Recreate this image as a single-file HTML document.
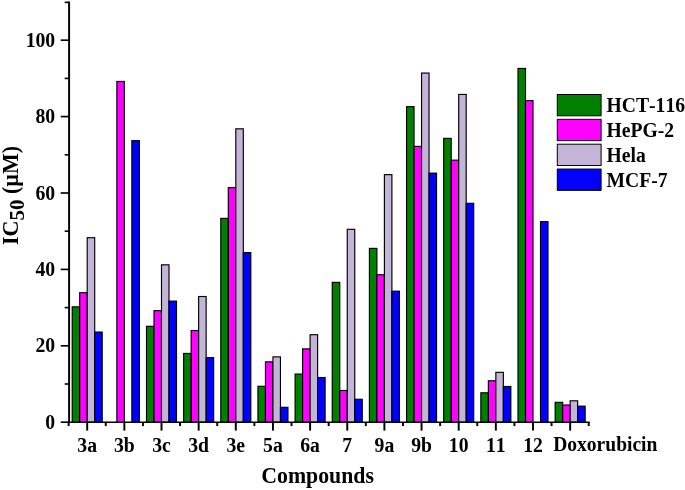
<!DOCTYPE html>
<html><head><meta charset="utf-8"><title>IC50 chart</title>
<style>
html,body{margin:0;padding:0;background:#fff;}
svg{display:block;}
text{font-kerning:none;font-family:"Liberation Serif",serif;font-weight:bold;fill:#000;}
</style></head><body>
<svg width="685" height="490" viewBox="0 0 685 490">
<rect width="685" height="490" fill="#fff"/>
<g stroke="#000" stroke-width="1.15">
<rect x="72.20" y="306.84" width="7.50" height="115.36" fill="#008000"/>
<rect x="79.70" y="292.70" width="7.50" height="129.50" fill="#ff00ff"/>
<rect x="87.20" y="237.69" width="7.50" height="184.51" fill="#c3b4d8"/>
<rect x="94.70" y="332.05" width="7.50" height="90.15" fill="#0000ff"/>
<rect x="116.85" y="81.46" width="7.50" height="340.74" fill="#ff00ff"/>
<rect x="131.85" y="140.67" width="7.50" height="281.53" fill="#0000ff"/>
<rect x="146.50" y="326.32" width="7.50" height="95.88" fill="#008000"/>
<rect x="154.00" y="310.66" width="7.50" height="111.54" fill="#ff00ff"/>
<rect x="161.50" y="264.82" width="7.50" height="157.38" fill="#c3b4d8"/>
<rect x="169.00" y="301.11" width="7.50" height="121.09" fill="#0000ff"/>
<rect x="183.65" y="353.44" width="7.50" height="68.76" fill="#008000"/>
<rect x="191.15" y="330.52" width="7.50" height="91.68" fill="#ff00ff"/>
<rect x="198.65" y="296.52" width="7.50" height="125.68" fill="#c3b4d8"/>
<rect x="206.15" y="357.64" width="7.50" height="64.56" fill="#0000ff"/>
<rect x="220.80" y="218.40" width="7.50" height="203.80" fill="#008000"/>
<rect x="228.30" y="187.65" width="7.50" height="234.55" fill="#ff00ff"/>
<rect x="235.80" y="128.82" width="7.50" height="293.38" fill="#c3b4d8"/>
<rect x="243.30" y="252.59" width="7.50" height="169.61" fill="#0000ff"/>
<rect x="257.95" y="386.29" width="7.50" height="35.91" fill="#008000"/>
<rect x="265.45" y="361.84" width="7.50" height="60.36" fill="#ff00ff"/>
<rect x="272.95" y="356.88" width="7.50" height="65.32" fill="#c3b4d8"/>
<rect x="280.45" y="407.30" width="7.50" height="14.90" fill="#0000ff"/>
<rect x="295.10" y="374.07" width="7.50" height="48.13" fill="#008000"/>
<rect x="302.60" y="348.86" width="7.50" height="73.34" fill="#ff00ff"/>
<rect x="310.10" y="334.72" width="7.50" height="87.48" fill="#c3b4d8"/>
<rect x="317.60" y="377.51" width="7.50" height="44.69" fill="#0000ff"/>
<rect x="332.25" y="282.39" width="7.50" height="139.81" fill="#008000"/>
<rect x="339.75" y="390.49" width="7.50" height="31.71" fill="#ff00ff"/>
<rect x="347.25" y="229.29" width="7.50" height="192.91" fill="#c3b4d8"/>
<rect x="354.75" y="399.28" width="7.50" height="22.92" fill="#0000ff"/>
<rect x="369.40" y="248.39" width="7.50" height="173.81" fill="#008000"/>
<rect x="376.90" y="274.75" width="7.50" height="147.45" fill="#ff00ff"/>
<rect x="384.40" y="174.66" width="7.50" height="247.54" fill="#c3b4d8"/>
<rect x="391.90" y="291.17" width="7.50" height="131.03" fill="#0000ff"/>
<rect x="406.55" y="106.67" width="7.50" height="315.53" fill="#008000"/>
<rect x="414.05" y="146.40" width="7.50" height="275.80" fill="#ff00ff"/>
<rect x="421.55" y="73.05" width="7.50" height="349.15" fill="#c3b4d8"/>
<rect x="429.05" y="173.14" width="7.50" height="249.06" fill="#0000ff"/>
<rect x="443.70" y="138.37" width="7.50" height="283.83" fill="#008000"/>
<rect x="451.20" y="160.15" width="7.50" height="262.05" fill="#ff00ff"/>
<rect x="458.70" y="94.44" width="7.50" height="327.76" fill="#c3b4d8"/>
<rect x="466.20" y="203.31" width="7.50" height="218.89" fill="#0000ff"/>
<rect x="480.85" y="392.79" width="7.50" height="29.41" fill="#008000"/>
<rect x="488.35" y="380.75" width="7.50" height="41.45" fill="#ff00ff"/>
<rect x="495.85" y="372.35" width="7.50" height="49.85" fill="#c3b4d8"/>
<rect x="503.35" y="386.48" width="7.50" height="35.72" fill="#0000ff"/>
<rect x="518.00" y="68.47" width="7.50" height="353.73" fill="#008000"/>
<rect x="525.50" y="100.56" width="7.50" height="321.64" fill="#ff00ff"/>
<rect x="540.50" y="221.65" width="7.50" height="200.55" fill="#0000ff"/>
<rect x="555.15" y="402.34" width="7.50" height="19.86" fill="#008000"/>
<rect x="562.65" y="405.01" width="7.50" height="17.19" fill="#ff00ff"/>
<rect x="570.15" y="400.81" width="7.50" height="21.39" fill="#c3b4d8"/>
<rect x="577.65" y="406.16" width="7.50" height="16.04" fill="#0000ff"/>
</g>
<g stroke="#000" stroke-width="1.95" fill="none">
<path d="M69.10 1.53 V423.02"/>
<path d="M87.20 422.20 V430.60"/>
<path d="M68.62 422.20 V426.10"/>
<path d="M124.35 422.20 V430.60"/>
<path d="M105.77 422.20 V426.10"/>
<path d="M161.50 422.20 V430.60"/>
<path d="M142.93 422.20 V426.10"/>
<path d="M198.65 422.20 V430.60"/>
<path d="M180.07 422.20 V426.10"/>
<path d="M235.80 422.20 V430.60"/>
<path d="M217.23 422.20 V426.10"/>
<path d="M272.95 422.20 V430.60"/>
<path d="M254.38 422.20 V426.10"/>
<path d="M310.10 422.20 V430.60"/>
<path d="M291.52 422.20 V426.10"/>
<path d="M347.25 422.20 V430.60"/>
<path d="M328.68 422.20 V426.10"/>
<path d="M384.40 422.20 V430.60"/>
<path d="M365.82 422.20 V426.10"/>
<path d="M421.55 422.20 V430.60"/>
<path d="M402.97 422.20 V426.10"/>
<path d="M458.70 422.20 V430.60"/>
<path d="M440.12 422.20 V426.10"/>
<path d="M495.85 422.20 V430.60"/>
<path d="M477.27 422.20 V426.10"/>
<path d="M533.00 422.20 V430.60"/>
<path d="M514.42 422.20 V426.10"/>
<path d="M570.15 422.20 V430.60"/>
<path d="M551.57 422.20 V426.10"/>
<path d="M588.73 422.20 V426.10"/>
</g>
<g stroke="#000" stroke-width="1.65" fill="none">
<path d="M68.12 422.20 H589.70"/>
<path d="M60.70 422.20 H69.10"/>
<path d="M64.70 384.00 H69.10"/>
<path d="M60.70 345.80 H69.10"/>
<path d="M64.70 307.60 H69.10"/>
<path d="M60.70 269.40 H69.10"/>
<path d="M64.70 231.20 H69.10"/>
<path d="M60.70 193.00 H69.10"/>
<path d="M64.70 154.80 H69.10"/>
<path d="M60.70 116.60 H69.10"/>
<path d="M64.70 78.40 H69.10"/>
<path d="M60.70 40.20 H69.10"/>
<path d="M64.70 2.35 H69.10"/>
</g>
<g font-size="19.7" text-anchor="end">
<text transform="translate(55.2,428.65) scale(1,1.06)">0</text>
<text transform="translate(55.2,352.10) scale(1,1.06)">20</text>
<text transform="translate(55.2,276.25) scale(1,1.06)">40</text>
<text transform="translate(55.2,200.00) scale(1,1.06)">60</text>
<text transform="translate(55.2,123.00) scale(1,1.06)">80</text>
<text transform="translate(55.2,47.20) scale(1,1.06)">100</text>
</g>
<g font-size="19.7" text-anchor="middle">
<text transform="translate(87.20,452.0) scale(1,1.03)">3a</text>
<text transform="translate(124.35,452.0) scale(1,1.03)">3b</text>
<text transform="translate(161.50,452.0) scale(1,1.03)">3c</text>
<text transform="translate(198.65,452.0) scale(1,1.03)">3d</text>
<text transform="translate(235.80,452.0) scale(1,1.03)">3e</text>
<text transform="translate(272.95,452.0) scale(1,1.03)">5a</text>
<text transform="translate(310.10,452.0) scale(1,1.03)">6a</text>
<text transform="translate(347.25,452.0) scale(1,1.03)">7</text>
<text transform="translate(384.40,452.0) scale(1,1.03)">9a</text>
<text transform="translate(421.55,452.0) scale(1,1.03)">9b</text>
<text transform="translate(458.70,452.0) scale(1,1.03)">10</text>
<text transform="translate(495.85,452.0) scale(1,1.03)">11</text>
<text transform="translate(533.00,452.0) scale(1,1.03)">12</text>
<text transform="translate(553.20,450.8) scale(1,1.03)" font-size="19.55" text-anchor="start">Doxorubicin</text>
</g>
<text transform="translate(317.6,483.3) scale(1,1.04)" font-size="21.8" text-anchor="middle">Compounds</text>
<text transform="translate(18.0,245) rotate(-90) scale(1,1.03)" font-size="22">IC<tspan font-size="21" dy="6.2">50</tspan><tspan dy="-6.2"> (µM)</tspan></text>
<g stroke="#000" stroke-width="1">
<rect x="557.3" y="94.50" width="43.8" height="21.3" fill="#008000"/>
<rect x="557.3" y="119.35" width="43.8" height="21.3" fill="#ff00ff"/>
<rect x="557.3" y="144.20" width="43.8" height="21.3" fill="#c3b4d8"/>
<rect x="557.3" y="169.05" width="43.8" height="21.3" fill="#0000ff"/>
</g>
<g font-size="19.65">
<text transform="translate(606.5,111.90) scale(1,1.05)">HCT-116</text>
<text transform="translate(606.5,136.90) scale(1,1.05)">HePG-2</text>
<text transform="translate(606.5,161.90) scale(1,1.05)">Hela</text>
<text transform="translate(606.5,186.90) scale(1,1.05)">MCF-7</text>
</g>
</svg>
</body></html>
